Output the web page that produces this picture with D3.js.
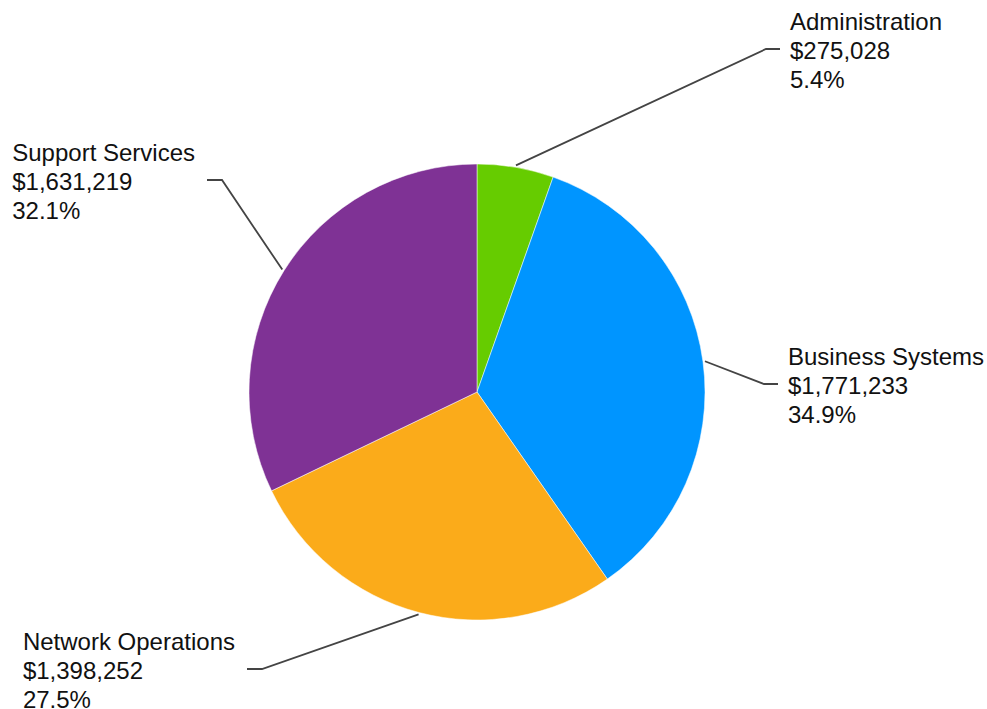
<!DOCTYPE html>
<html>
<head>
<meta charset="utf-8">
<script src="https://cdn.jsdelivr.net/npm/d3@7"></script>
<style>
  html, body { margin: 0; padding: 0; background: #fff; }
  text { font-family: "Liberation Sans", Arial, sans-serif; font-size: 24px; fill: #111; }
</style>
</head>
<body>
<script>
// chart data
var categories = ["Administration", "Business Systems", "Network Operations", "Support Services"];
var amounts = [275028, 1771233, 1398252, 1631219];
var colors = ["#66cc00", "#0095ff", "#fbab1a", "#7f3295"];

// label layout: elbow point of each leader line and which side the text sits
var elbows = [[766, 49], [764, 384], [262, 669], [222, 180]];
var sides = ["right", "right", "left", "left"];

var width = 987,
    height = 709,
    cx = 477,
    cy = 392,
    radius = 228;

var total = d3.sum(amounts);
var money = d3.format("$,");
var pct = d3.format(".1%");

var data = categories.map(function(c, i) {
  return { name: c, value: amounts[i], color: colors[i], elbow: elbows[i], side: sides[i] };
});

var svg = d3.select("body").append("svg")
    .attr("width", width)
    .attr("height", height);

var g = svg.append("g")
    .attr("transform", "translate(" + cx + "," + cy + ")");

var pie = d3.pie()
    .sort(null)
    .value(function(d) { return d.value; });

var arc = d3.arc()
    .innerRadius(0)
    .outerRadius(radius);

var arcs = pie(data);

g.selectAll("path.slice")
  .data(arcs)
  .enter().append("path")
    .attr("class", "slice")
    .attr("d", arc)
    .attr("fill", function(d) { return d.data.color; })
    .attr("stroke", "#fff")
    .attr("stroke-width", 0.5);

// leader lines
g.selectAll("polyline.leader")
  .data(arcs)
  .enter().append("polyline")
    .attr("class", "leader")
    .attr("fill", "none")
    .attr("stroke", "#444")
    .attr("stroke-width", 1.8)
    .attr("points", function(d) {
      var a = (d.startAngle + d.endAngle) / 2;
      var r = radius + 2;
      var p0 = [Math.sin(a) * r, -Math.cos(a) * r];
      var e = [d.data.elbow[0] - cx, d.data.elbow[1] - cy];
      var p2 = [e[0] + (d.data.side == "right" ? 14 : -15), e[1]];
      return [p0, e, p2].map(function(p) { return p.join(","); }).join(" ");
    });

// labels
var lineH = 28.8;
var labels = svg.selectAll("text.label")
  .data(arcs)
  .enter().append("text")
    .attr("class", "label");

labels.each(function(d) {
  var t = d3.select(this);
  var lines = [d.data.name, money(d.data.value), pct(d.data.value / total)];
  lines.forEach(function(l, i) {
    t.append("tspan")
      .attr("dy", i == 0 ? 0 : lineH)
      .text(l);
  });
});

labels.each(function(d) {
  var t = d3.select(this);
  var w = d3.max(t.selectAll("tspan").nodes(), function(n) { return n.getComputedTextLength(); });
  var ex = d.data.elbow[0], ey = d.data.elbow[1];
  var x = d.data.side == "right" ? ex + 24 : ex - 15 - 12 - w;
  var y = ey - lineH + 10;
  t.attr("x", x).attr("y", y);
  t.selectAll("tspan").attr("x", x);
});
</script>
</body>
</html>
